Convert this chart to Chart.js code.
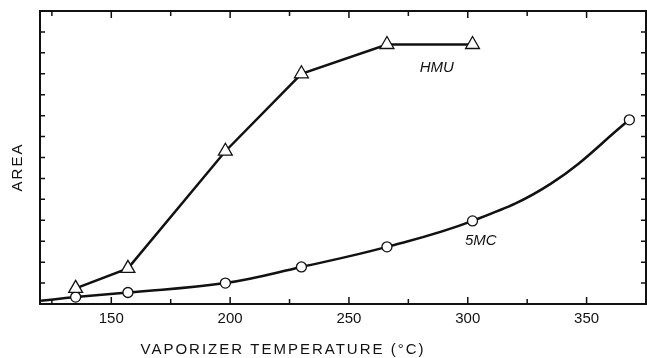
<!DOCTYPE html>
<html>
<head>
<meta charset="utf-8">
<script src="https://cdn.jsdelivr.net/npm/chart.js@4/dist/chart.umd.min.js"></script>
<style>
  html, body { margin: 0; padding: 0; background: #fff; overflow: hidden; }
  #wrap { width: 647px; height: 358px; position: relative; }
</style>
</head>
<body>
<div id="wrap"><canvas id="chart"></canvas></div>
<script>
// data
const hmuTemps = [135, 157, 198, 230, 266, 302];
const hmuArea = [0.75, 1.7, 7.3, 11.0, 12.4, 12.4];
const mcTemps = [120, 135, 157, 198, 230, 266, 302, 335, 368];
const mcArea = [0.15, 0.33, 0.55, 1.0, 1.77, 2.73, 3.97, 5.75, 8.8];
const mcRadius = [0, 5, 5, 5, 5, 5, 5, 0, 5];
const xTickLabels = [150, 200, 250, 300, 350];

const ink = "#111";
const FONT = "'Liberation Sans', Arial, sans-serif";

function toPoints(xs, ys) {
  return xs.map((x, i) => ({ x, y: ys[i] }));
}

// frame, inward ticks on all four sides, axis titles and curve labels
const framePlugin = {
  id: "frame",
  afterDatasetsDraw(chart) {
    const { ctx, chartArea: a, scales } = chart;
    const xs = scales.x, ys = scales.y;
    ctx.save();
    ctx.strokeStyle = ink;
    ctx.lineWidth = 2;
    ctx.strokeRect(a.left, a.top, a.right - a.left, a.bottom - a.top);

    ctx.lineWidth = 1.5;
    xs.ticks.forEach((t) => {
      if (t.value <= xs.min || t.value >= xs.max) return;
      const px = xs.getPixelForValue(t.value);
      const len = t.value % 50 === 0 ? 7 : 5;
      ctx.beginPath();
      ctx.moveTo(px, a.bottom);
      ctx.lineTo(px, a.bottom - len);
      ctx.moveTo(px, a.top);
      ctx.lineTo(px, a.top + len);
      ctx.stroke();
    });
    ys.ticks.forEach((t) => {
      if (t.value <= ys.min || t.value >= ys.max) return;
      const py = ys.getPixelForValue(t.value);
      ctx.beginPath();
      ctx.moveTo(a.left, py);
      ctx.lineTo(a.left + 5, py);
      ctx.moveTo(a.right, py);
      ctx.lineTo(a.right - 5, py);
      ctx.stroke();
    });

    ctx.fillStyle = ink;
    ctx.textAlign = "center";
    ctx.textBaseline = "middle";
    ctx.font = "15px " + FONT;
    ctx.letterSpacing = "2px";
    ctx.fillText("VAPORIZER TEMPERATURE (°C)", 283, 350);

    ctx.save();
    ctx.translate(18, 167);
    ctx.rotate(-Math.PI / 2);
    ctx.fillText("AREA", 0, 0);
    ctx.restore();

    ctx.letterSpacing = "0px";
    ctx.font = "italic 15px " + FONT;
    ctx.fillText("HMU", xs.getPixelForValue(287), ys.getPixelForValue(11.3));
    ctx.fillText("5MC", xs.getPixelForValue(305.5), ys.getPixelForValue(3.0));
    ctx.restore();
  },
};

new Chart(document.getElementById("chart"), {
  type: "scatter",
  data: {
    datasets: [
      {
        label: "HMU",
        data: toPoints(hmuTemps, hmuArea),
        showLine: true,
        borderColor: ink,
        borderWidth: 2.5,
        tension: 0,
        pointStyle: "triangle",
        pointRadius: 8,
        pointBackgroundColor: "#fff",
        pointBorderColor: ink,
        pointBorderWidth: 1.3,
      },
      {
        label: "5MC",
        data: toPoints(mcTemps, mcArea),
        showLine: true,
        borderColor: ink,
        borderWidth: 2.5,
        tension: 0.4,
        pointStyle: "circle",
        pointRadius: mcRadius,
        pointBackgroundColor: "#fff",
        pointBorderColor: ink,
        pointBorderWidth: 1.3,
      },
    ],
  },
  options: {
    responsive: true,
    maintainAspectRatio: false,
    animation: false,
    events: [],
    layout: { autoPadding: false, padding: { top: 11, right: 1, left: 0, bottom: 0 } },
    plugins: { legend: { display: false }, tooltip: { enabled: false } },
    scales: {
      x: {
        type: "linear",
        min: 120,
        max: 375,
        afterBuildTicks(scale) {
          const ticks = [];
          for (let v = 125; v <= 375; v += 25) ticks.push({ value: v });
          scale.ticks = ticks;
        },
        ticks: {
          color: ink,
          padding: 6,
          maxRotation: 0,
          autoSkip: false,
          font: { family: FONT, size: 15 },
          callback: (v) => (xTickLabels.includes(v) ? String(v) : ""),
        },
        grid: { display: false, drawTicks: false },
        border: { display: false },
        afterFit(scale) {
          scale.height = 54;
          scale.paddingLeft = 0;
          scale.paddingRight = 0;
        },
      },
      y: {
        min: 0,
        max: 14,
        ticks: { display: false, stepSize: 1 },
        grid: { display: false, drawTicks: false },
        border: { display: false },
        afterFit(scale) { scale.width = 40; },
      },
    },
  },
  plugins: [framePlugin],
});
</script>
</body>
</html>
